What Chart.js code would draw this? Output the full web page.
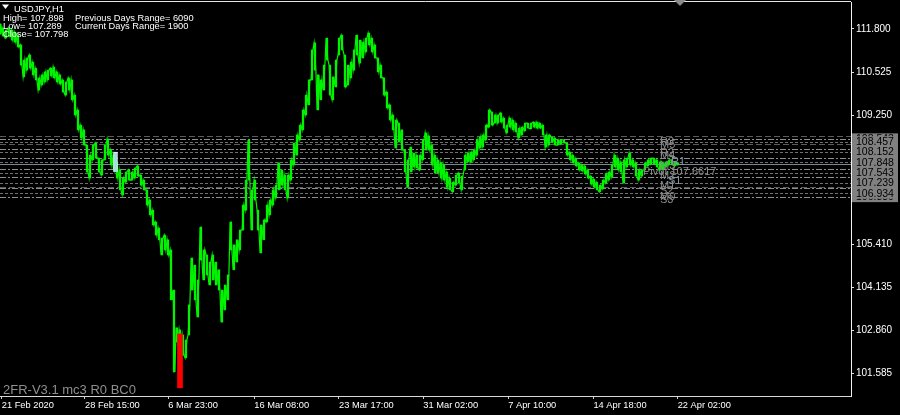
<!DOCTYPE html>
<html><head><meta charset="utf-8">
<script src="https://cdn.jsdelivr.net/npm/chart.js@4.4.1/dist/chart.umd.min.js"></script>
<style>html,body{margin:0;padding:0;background:#000;overflow:hidden}#wrap{width:900px;height:415px;position:relative}</style>
</head><body><div id="wrap"><canvas id="c" width="900" height="415"></canvas></div>
<script>
// ---------- data ----------
const symbolTitle = 'USDJPY,H1';
const infoLeft = ['High= 107.898', 'Low= 107.289', 'Close= 107.798'];
const infoRight = ['Previous Days Range= 6090', 'Current Days Range= 1900'];
const footerText = '2FR-V3.1 mc3 R0 BC0';

// H1 price ranges, sampled left to right (high / low)
const highs = [
111.95,111.83,111.77,111.83,111.77,111.71,111.62,111.33,110.88,110.94,
111.03,110.82,110.64,110.35,110.44,110.53,110.58,110.64,110.67,110.53,
110.44,110.29,110.23,110.35,110.29,109.84,109.40,108.95,108.81,108.36,
108.06,108.36,108.42,107.97,107.92,108.36,108.54,108.21,108.06,107.86,
107.62,107.38,107.56,107.62,107.56,107.68,107.74,107.47,107.32,107.03,
106.73,106.43,106.08,105.90,105.60,105.69,105.55,105.25,104.06,102.94,
102.88,102.73,102.58,103.62,105.01,104.80,104.36,105.93,105.25,105.10,
104.89,105.10,104.89,104.66,104.06,104.21,104.51,106.08,105.40,105.55,
105.84,106.58,107.32,108.51,107.03,107.32,106.43,105.99,106.14,106.58,
106.73,107.03,107.17,107.83,107.62,107.47,107.47,107.92,108.42,108.66,
108.95,109.40,109.84,110.29,111.18,111.39,110.44,110.29,110.73,111.53,
110.73,110.38,110.88,111.53,111.62,111.03,110.73,110.82,111.18,111.62,
111.47,111.41,111.53,111.68,111.53,111.33,110.94,110.73,110.35,109.93,
109.55,109.25,109.10,109.01,108.81,108.21,107.92,108.30,108.12,108.06,
108.06,108.51,108.72,108.63,108.36,108.06,107.92,107.83,107.77,107.56,
107.38,107.26,107.47,107.53,107.44,108.06,108.12,108.15,108.21,108.51,
108.60,108.66,108.95,109.40,109.34,109.25,109.25,109.31,109.16,108.95,
109.16,109.10,109.01,108.86,108.89,109.01,109.01,109.01,109.04,109.04,
109.01,108.95,108.66,108.66,108.60,108.57,108.51,108.51,108.51,108.42,
108.15,108.06,107.97,107.83,107.77,107.74,107.62,107.44,107.35,107.26,
107.17,107.32,107.50,107.56,107.77,108.06,107.97,107.86,107.92,107.97,
108.12,107.92,107.83,107.62,107.62,107.83,107.92,107.97,107.97,107.92,
107.86,107.83,107.86,107.92,107.92,107.86,107.83];
const lows = [
111.65,111.59,111.53,111.59,111.47,111.41,111.27,110.73,110.38,110.58,
110.64,110.44,110.29,109.99,110.14,110.23,110.29,110.41,110.35,110.23,
110.17,109.93,109.84,109.99,109.70,109.25,108.81,108.57,108.36,107.56,
107.38,107.92,107.97,107.56,107.47,107.92,108.06,107.77,107.62,107.38,
107.03,106.88,107.26,107.32,107.32,107.38,107.44,107.17,107.03,106.58,
106.29,105.99,105.69,105.55,105.10,105.25,105.10,103.77,101.63,102.52,
102.43,102.13,102.05,102.73,104.06,103.77,103.26,104.95,104.36,104.51,
104.21,104.36,104.21,104.06,103.11,103.47,103.77,105.25,104.66,104.89,
105.25,105.84,106.43,107.32,105.84,106.73,105.84,105.16,105.55,106.08,
106.29,106.58,106.79,107.03,107.17,107.03,106.79,107.32,107.77,108.06,
108.51,108.81,109.25,109.55,110.29,110.58,109.40,109.70,109.99,110.88,
109.84,109.70,110.08,111.03,111.18,110.08,110.14,110.35,110.58,111.03,
110.79,110.94,111.12,111.33,111.12,110.94,110.53,110.35,109.84,109.46,
109.10,108.81,108.27,108.45,108.21,107.56,107.11,107.56,107.71,107.68,
107.62,107.92,108.21,108.21,107.77,107.53,107.53,107.38,107.32,107.11,
107.03,106.97,107.17,107.23,107.03,107.62,107.86,107.86,107.92,108.06,
108.27,108.30,108.51,108.89,108.95,109.01,109.01,109.04,108.86,108.72,
108.89,108.81,108.75,108.57,108.66,108.78,108.86,108.84,108.89,108.86,
108.86,108.66,108.30,108.36,108.45,108.36,108.36,108.39,108.42,108.06,
107.92,107.83,107.74,107.62,107.59,107.50,107.38,107.20,107.11,107.03,
106.97,107.06,107.23,107.32,107.41,107.71,107.62,107.56,107.23,107.71,
107.77,107.71,107.44,107.32,107.44,107.62,107.74,107.80,107.80,107.71,
107.62,107.65,107.71,107.77,107.77,107.74,107.77];

// indicator signal bars (sample position, [low, high])
const blueSignal = { at: 38.5, range: [107.56, 108.15] };
const redSignal  = { at: 60,   range: [101.16, 102.76] };

// time axis
const xTickPositions = [0.57, 28.33, 56.1, 84.77, 113, 141.1, 169.4, 197.8, 225.9];
const xTickLabels = ['21 Feb 2020','28 Feb 15:00','6 Mar 23:00','16 Mar 08:00','23 Mar 17:00','31 Mar 02:00','7 Apr 10:00','14 Apr 18:00','22 Apr 02:00'];
const xRange = [0, 283.67];

// price axis
const yTickValues = [111.8, 110.525, 109.25, 105.41, 104.135, 102.86, 101.585];
const yRange = [100.919, 112.6005];

// pivot levels
const levelNames  = ['R3','M5','R2','M4','R1','M3','Pivot 107.6617','M2','S1','M1','S2','M0','S3'];
const levelValues = [108.543,108.457,108.233,108.152,107.972,107.848,107.6617,107.543,107.401,107.239,107.09,106.934,106.83];
const extraLevels = [108.64, 108.38, 107.12];
const axisLabelValues = [108.543,108.457,108.152,107.848,107.543,107.239,106.934,106.83];
const closePrice = 107.798;

// ---------- drawing ----------
const FONT = "'Liberation Sans', Arial, sans-serif";
const GREEN = '#00f400';

// zig-zag path through each sample's extremes (gives the dense H1-bar texture)
const zigzag = [];
highs.forEach((h, i) => {
  const mid = (h + lows[i]) / 2;
  const nxt = i + 1 < highs.length ? (highs[i + 1] + lows[i + 1]) / 2 : mid;
  if (nxt >= mid) { zigzag.push({x: i - 0.3, y: lows[i]}, {x: i + 0.3, y: h}); }
  else { zigzag.push({x: i - 0.3, y: h}, {x: i + 0.3, y: lows[i]}); }
});

const overlay = {
  id: 'overlay',
  beforeDatasetsDraw(chart) {
    const {ctx, chartArea: a, scales: {y}} = chart;
    ctx.save();
    ctx.beginPath(); ctx.rect(a.left, a.top, a.right - a.left, a.bottom - a.top); ctx.clip();
    ctx.lineWidth = 1;
    const drawLevel = (v, color, dash) => {
      const py = Math.round(y.getPixelForValue(v)) + 0.5;
      ctx.strokeStyle = color; ctx.setLineDash(dash);
      ctx.beginPath(); ctx.moveTo(a.left, py); ctx.lineTo(a.right, py); ctx.stroke();
    };
    extraLevels.forEach(v => drawLevel(v, '#5c5c5c', [6, 3]));
    levelValues.forEach((v, i) => {
      const m = levelNames[i].startsWith('M');
      drawLevel(v, m ? '#707070' : '#8e8e8e', m ? [3, 2] : [6, 2, 2, 2]);
    });
    drawLevel(closePrice, '#7a8896', []);
    ctx.restore();
  },
  afterDraw(chart) {
    const {ctx, chartArea: a, scales: {x, y}} = chart;
    ctx.save();
    // top frame
    ctx.strokeStyle = '#e6e6e6'; ctx.lineWidth = 1; ctx.setLineDash([]);
    ctx.beginPath(); ctx.moveTo(a.left, 1.5); ctx.lineTo(a.right, 1.5); ctx.stroke();
    // chart shift marker
    ctx.fillStyle = '#8a8a8a';
    ctx.beginPath(); ctx.moveTo(674, 0); ctx.lineTo(686, 0); ctx.lineTo(680, 6); ctx.closePath(); ctx.fill();

    // info texts
    ctx.fillStyle = '#ffffff';
    ctx.beginPath(); ctx.moveTo(2, 4.5); ctx.lineTo(9, 4.5); ctx.lineTo(5.5, 9); ctx.closePath(); ctx.fill();
    ctx.font = '9.3px ' + FONT; ctx.textBaseline = 'alphabetic'; ctx.textAlign = 'left';
    ctx.fillText(symbolTitle, 14, 11.5);
    infoLeft.forEach((t, i) => ctx.fillText(t, 3, 20.5 + i * 8));
    infoRight.forEach((t, i) => ctx.fillText(t, 75, 20.5 + i * 8));

    // footer
    ctx.fillStyle = '#8f8f8f'; ctx.font = '13px ' + FONT;
    ctx.fillText(footerText, 3, 394);

    // pivot level names
    ctx.font = '11px ' + FONT; ctx.textBaseline = 'top';
    const baseX = x.getPixelForValue(220);
    const dx = {'R1': 11, 'S1': 8, 'Pivot 107.6617': -17};
    levelNames.forEach((n, i) => {
      ctx.fillStyle = (n === 'R1' || n === 'S1') ? '#8797a8' : '#8a8a8a';
      ctx.fillText(n, baseX + (dx[n] || 0), y.getPixelForValue(levelValues[i]) - 2);
    });

    // price labels on the axis (outer ones first, so inner ones cover them)
    const bx = a.right + 1, bw = 46;
    const pos = axisLabelValues.map(v => y.getPixelForValue(v));
    const boxTop = pos[0] - 6, boxBot = pos[pos.length - 2] + 10;
    ctx.beginPath(); ctx.rect(bx, boxTop, bw, boxBot - boxTop); ctx.clip();
    ctx.font = '10.5px ' + FONT; ctx.textBaseline = 'middle';
    const order = [0, axisLabelValues.length - 1];
    for (let i = 1; i < axisLabelValues.length - 1; i++) order.push(i);
    order.forEach(k => {
      const py = pos[k];
      ctx.fillStyle = '#808080'; ctx.fillRect(bx, py - 5.5, bw, 11);
      ctx.fillStyle = '#000000'; ctx.fillText(axisLabelValues[k].toFixed(3), bx + 4, py + 0.5);
    });
    ctx.restore();
  }
};

new Chart(document.getElementById('c'), {
  type: 'bar',
  data: {
    datasets: [
      { type: 'line', data: zigzag, borderColor: GREEN, borderWidth: 1.2, pointRadius: 0, tension: 0, fill: false, order: 3 },
      { data: highs.map((h, i) => ({x: i, y: [lows[i], h]})), backgroundColor: GREEN, borderWidth: 0, barThickness: 1.6, grouped: false, order: 2 },
      { data: [{x: blueSignal.at, y: blueSignal.range}], backgroundColor: '#a9d8ea', borderColor: '#e8f8ff', borderWidth: 1, barThickness: 4, grouped: false, order: 1 },
      { data: [{x: redSignal.at, y: redSignal.range}], backgroundColor: '#ff0000', borderWidth: 0, barThickness: 5, grouped: false, order: 1 }
    ]
  },
  options: {
    responsive: false, animation: false, devicePixelRatio: 1,
    layout: { padding: { top: 2, left: 0, right: 0, bottom: 0 } },
    plugins: { legend: { display: false }, tooltip: { enabled: false } },
    scales: {
      x: {
        type: 'linear', min: xRange[0], max: xRange[1], offset: false,
        grid: { display: true, drawOnChartArea: false, drawTicks: true, tickLength: 3, color: '#d0d0d0', offset: false },
        border: { display: true, color: '#d8d8d8' },
        afterBuildTicks: s => { s.ticks = xTickPositions.map(v => ({value: v})); },
        afterFit: s => { s.height = 19; s.paddingLeft = 0; s.paddingRight = 0; },
        ticks: { autoSkip: false, maxRotation: 0, align: 'start', padding: 1, color: '#ffffff', font: { family: FONT, size: 9.3 },
                 callback: (v, i) => xTickLabels[i] }
      },
      y: {
        type: 'linear', position: 'right', min: yRange[0], max: yRange[1],
        grid: { display: true, drawOnChartArea: false, drawTicks: true, tickLength: 3, color: '#e0e0e0' },
        border: { display: true, color: '#f0f0f0' },
        afterBuildTicks: s => { s.ticks = yTickValues.map(v => ({value: v})); },
        afterFit: s => { s.width = 49; s.paddingTop = 0; s.paddingBottom = 0; },
        ticks: { autoSkip: false, padding: 2, color: '#ffffff', font: { family: FONT, size: 10 }, callback: v => v.toFixed(3) }
      }
    }
  },
  plugins: [overlay]
});
</script></body></html>
